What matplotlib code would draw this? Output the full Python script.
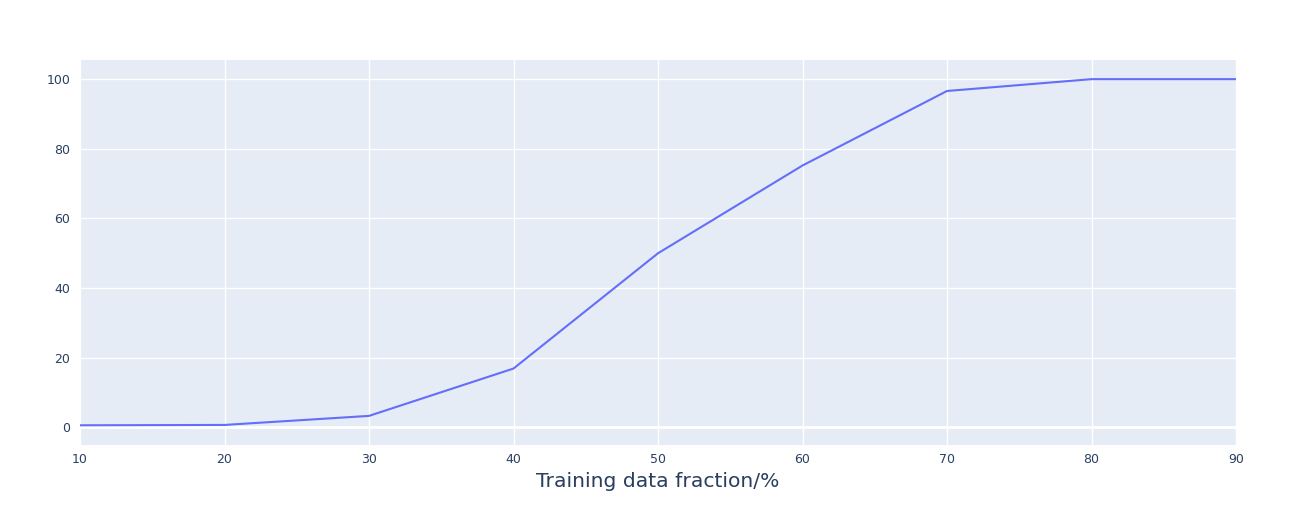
import matplotlib
matplotlib.use("Agg")
import matplotlib.pyplot as plt

x_values = [10, 20, 30, 40, 50, 60, 70, 80, 90]
y_values = [0.6, 0.7, 3.3, 16.9, 50.0, 75.2, 96.6, 100.0, 100.0]
x_ticks = [10, 20, 30, 40, 50, 60, 70, 80, 90]
y_ticks = [0, 20, 40, 60, 80, 100]
x_label = "Training data fraction/%"

W, H = 1316, 525
fig = plt.figure(figsize=(W / 100, H / 100), dpi=100)
ax = fig.add_axes([80 / W, 1 - 445 / H, (1236 - 80) / W, (445 - 60) / H])
ax.set_facecolor("#e5ecf6")
ax.plot(x_values, y_values, color="#636efa", lw=1.5, zorder=3, solid_joinstyle="round")
ax.set_xlim(10, 90)
ax.set_ylim(-5.06, 105.5)
ax.set_xticks(x_ticks)
ax.set_yticks(y_ticks)
ax.grid(True, color="white", lw=1.0, zorder=0)
ax.set_axisbelow(True)
ax.axhline(0, color="white", lw=2.0, zorder=1)
for s in ax.spines.values():
    s.set_visible(False)
ax.tick_params(length=0, labelsize=9, labelcolor="#2a3f5f", pad=6)
ax.tick_params(axis="y", pad=7)
ax.set_xlabel(x_label, fontsize=14.6, color="#2a3f5f", labelpad=4)
fig.savefig("out.png", dpi=100)
